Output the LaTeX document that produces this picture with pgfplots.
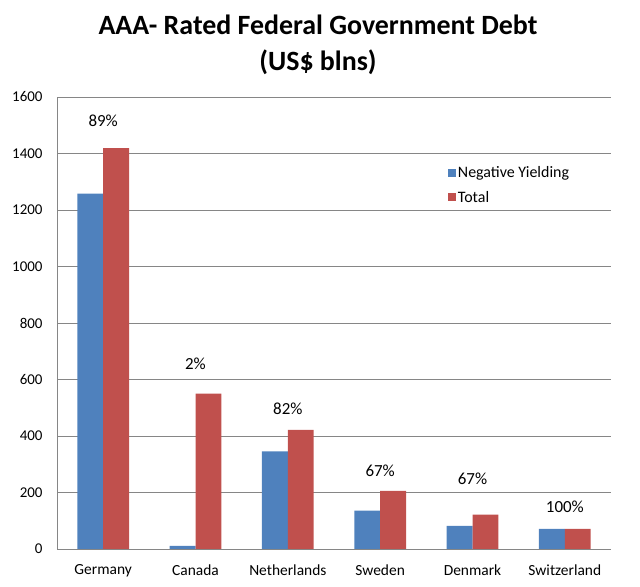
\documentclass[border=0pt]{standalone}
\usepackage{pgfplots}
\pgfplotsset{compat=1.18}
\usepackage{fontspec}
\setmainfont{Carlito}
\definecolor{cblue}{HTML}{4F81BD}
\definecolor{cred}{HTML}{C0504D}
\definecolor{cgrid}{HTML}{868686}
\begin{document}
\begin{tikzpicture}[x=1bp,y=1bp]
\path[use as bounding box] (0,0) rectangle (640,587);
\node[font=\fontsize{28}{32}\selectfont\bfseries] at (318,562) {AAA- Rated Federal Government Debt};
\node[font=\fontsize{28}{32}\selectfont\bfseries] at (318,525) {(US\$ blns)};
\begin{axis}[
  at={(57bp,38bp)}, anchor=south west,
  scale only axis, width=554bp, height=452bp,
  ybar=0pt, bar width=0.28,
  xmin=-0.5, xmax=5.5, ymin=0, ymax=1600,
  ytick={0,200,...,1600},
  xtick={0,1,2,3,4,5},
  xticklabels={Germany,Canada,Netherlands,Sweden,Denmark,Switzerland},
  axis x line*=bottom, axis y line*=left,
  axis line style={cgrid, line width=0.8bp},
  ymajorgrids, grid style={cgrid, line width=0.8bp},
  major tick length=0pt,
  yticklabel style={font=\fontsize{15}{17}\selectfont, xshift=-11bp},
  xticklabel style={font=\fontsize{15.5}{18}\selectfont, yshift=-12bp},
  /pgf/number format/assume math mode=true,
  /pgf/number format/1000 sep={},
  legend style={draw=none, fill=none, at={(0.70,0.805)}, anchor=west,
    font=\fontsize{16}{19}\selectfont, row sep=8bp, cells={anchor=west}},
  legend image code/.code={\fill[#1] (0bp,-4bp) rectangle (8bp,4bp);},
]
\addplot[fill=cblue, draw=none] coordinates {(0,1258) (1,11) (2,346) (3,136) (4,82) (5,71)};
\addplot[fill=cred, draw=none] coordinates {(0,1419) (1,550) (2,422) (3,206) (4,122) (5,71)};
\legend{Negative Yielding, Total}
\node[font=\fontsize{17}{20}\selectfont] at (axis cs:0,1516) {89\%};
\node[font=\fontsize{17}{20}\selectfont] at (axis cs:1,657) {2\%};
\node[font=\fontsize{17}{20}\selectfont] at (axis cs:2,497) {82\%};
\node[font=\fontsize{17}{20}\selectfont] at (axis cs:3,277) {67\%};
\node[font=\fontsize{17}{20}\selectfont] at (axis cs:4,248) {67\%};
\node[font=\fontsize{17}{20}\selectfont] at (axis cs:5,149) {100\%};
\end{axis}
\end{tikzpicture}
\end{document}
